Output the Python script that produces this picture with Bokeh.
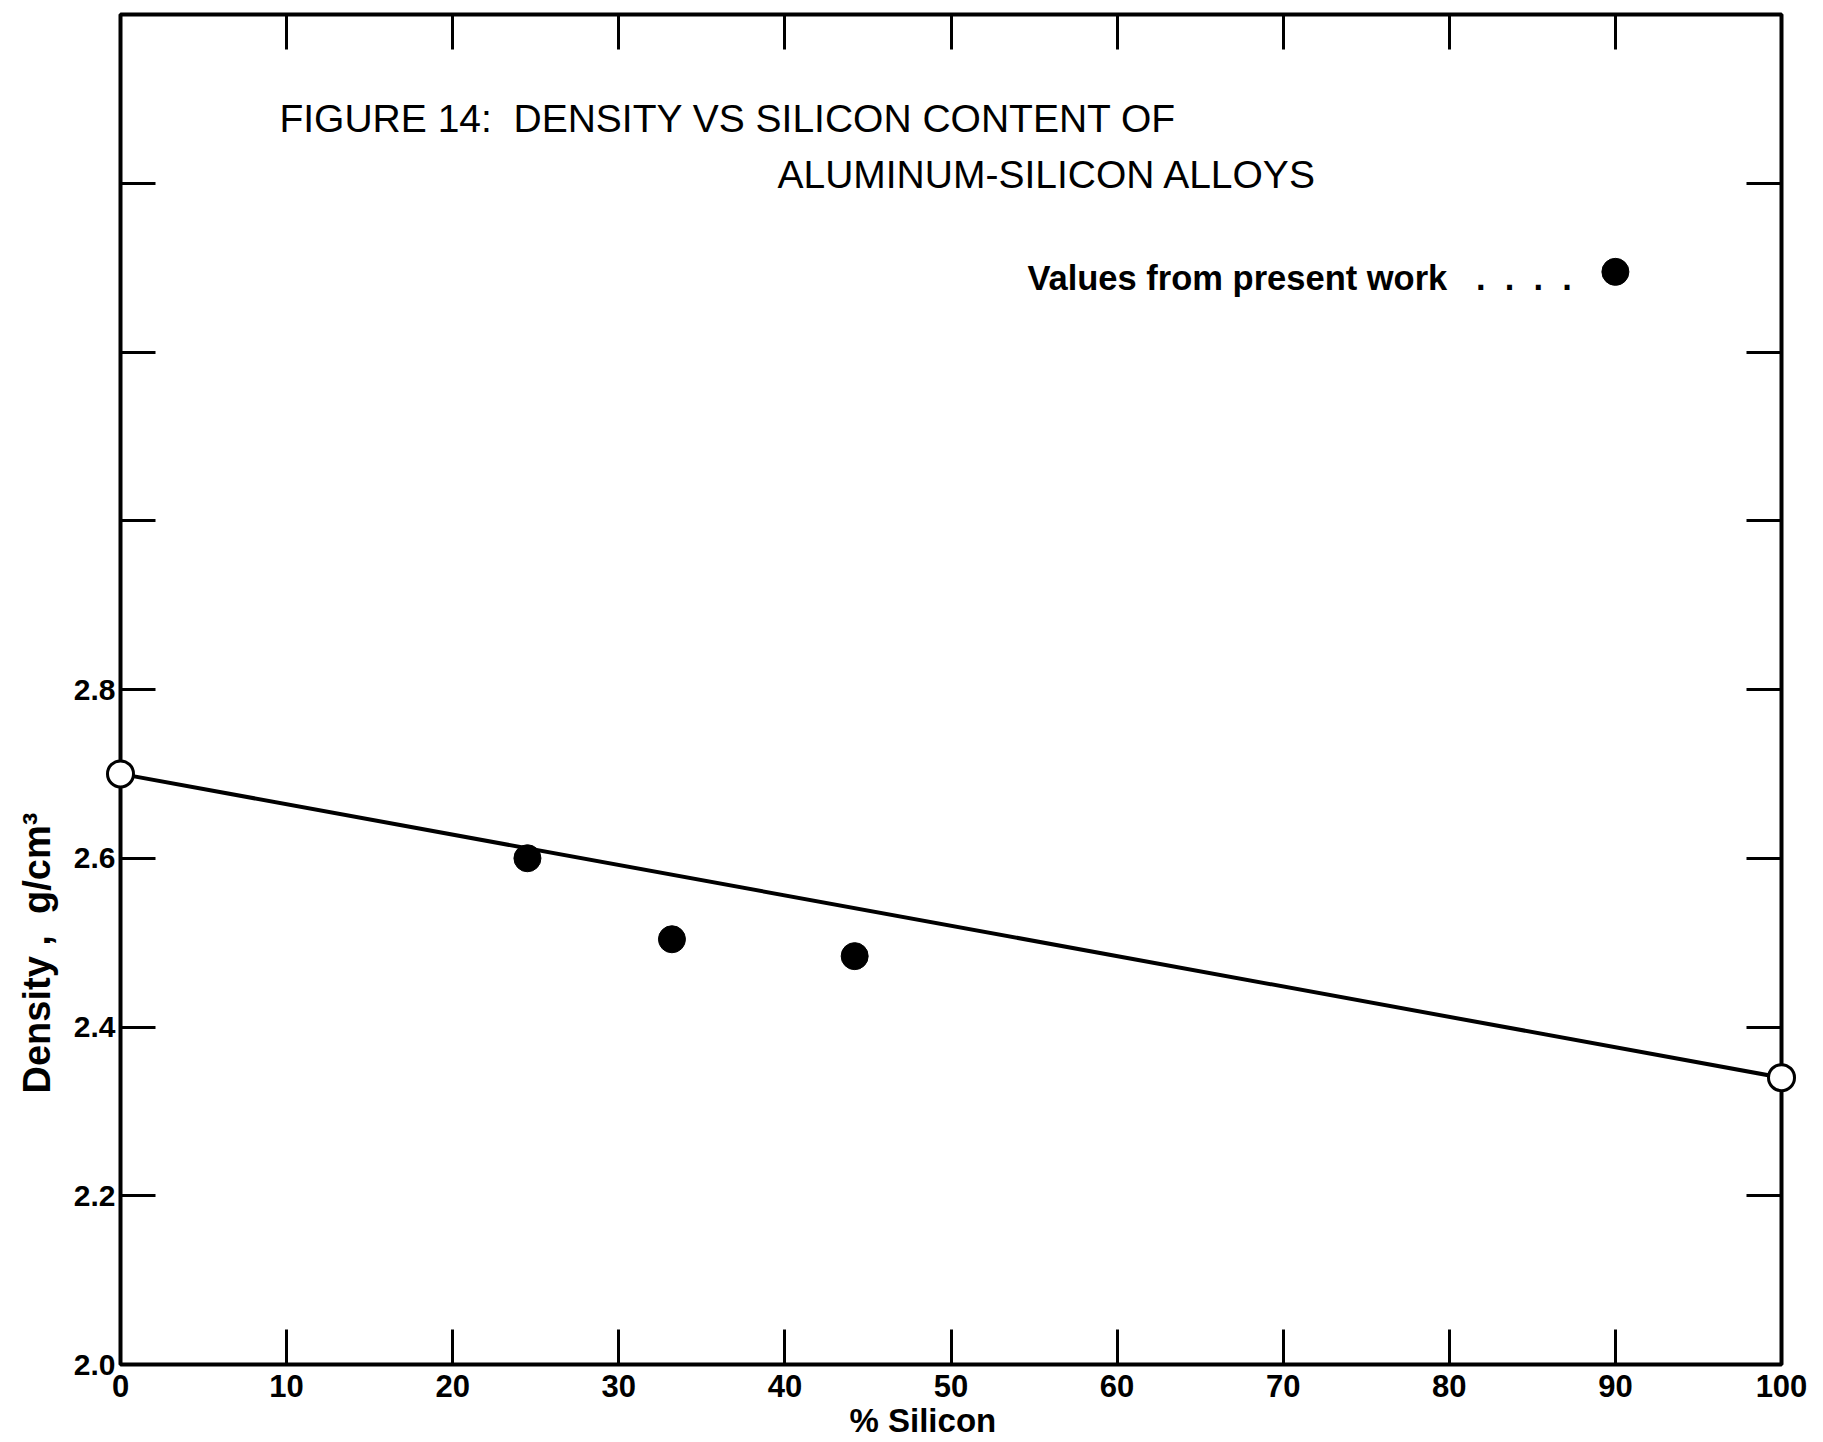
import math
from bokeh.plotting import figure
from bokeh.models import FixedTicker, LinearAxis, Label, Range1d, Title, CustomLabelingPolicy
from bokeh.embed import file_html
from bokeh.resources import INLINE

# ---- data ----
end_silicon = [0, 100]
end_density = [2.70, 2.34]

work_silicon = [24.5, 33.2, 44.2]
work_density = [2.600, 2.504, 2.484]

legend_silicon = [90.0]
legend_density = [3.295]

x_ticks = [0, 10, 20, 30, 40, 50, 60, 70, 80, 90, 100]
x_tick_labels = ["0", "10", "20", "30", "40", "50", "60", "70", "80", "90", "100"]
y_ticks = [2.0, 2.2, 2.4, 2.6, 2.8, 3.0, 3.2, 3.4, 3.6]
y_tick_labels = ["2.0", "2.2", "2.4", "2.6", "2.8", "", "", "", ""]

NB = "\u00a0"
title_lines = ["FIGURE 14:" + NB + NB + "DENSITY VS SILICON CONTENT OF",
               "ALUMINUM-SILICON ALLOYS"]
legend_text = "Values from present work" + NB * 3 + "." + (NB * 2 + ".") * 3
x_label = "% Silicon"
y_label = "Density" + NB + "," + NB + NB + "g/cm\u00b3"

FONT = "Liberation Sans"

p = figure(frame_width=1661, frame_height=1350,
           x_range=Range1d(0, 100), y_range=Range1d(2.0, 3.6),
           output_backend="svg", toolbar_location=None,
           x_axis_location=None, y_axis_location=None,
           min_border_left=120, min_border_top=14, min_border_right=30, min_border_bottom=60,
           background_fill_color="white", border_fill_color="white",
           outline_line_color="black", outline_line_width=4)
p.grid.visible = False

HIDE_FROM = """
for (let i = 0; i < indices.size; i++) {
  if (i >= n_shown) indices.unset(i)
}
return indices
"""


def make_axis(ticks, labels, show_labels, font_size="30px"):
    ax = LinearAxis(ticker=FixedTicker(ticks=ticks, minor_ticks=[]),
                    major_tick_in=35, major_tick_out=0,
                    minor_tick_in=0, minor_tick_out=0,
                    major_tick_line_width=3, major_tick_line_color="black",
                    axis_line_color=None)
    n_shown = sum(1 for l in labels if l) if show_labels else 0
    if n_shown < len(ticks):
        ax.major_label_policy = CustomLabelingPolicy(code=HIDE_FROM, args=dict(n_shown=n_shown))
    if show_labels:
        ax.major_label_overrides = {t: l for t, l in zip(ticks, labels)}
        ax.major_label_text_font = FONT
        ax.major_label_text_font_style = "bold"
        ax.major_label_text_font_size = font_size
        ax.major_label_text_color = "black"
    else:
        ax.major_label_text_font_size = "0px"
        ax.major_label_standoff = 0
    return ax


bottom = make_axis(x_ticks, x_tick_labels, True, "31px")
bottom.major_label_standoff = 10
p.add_layout(bottom, "below")

left = make_axis(y_ticks, y_tick_labels, True, "30px")
left.major_label_standoff = 5
p.add_layout(left, "left")

p.add_layout(make_axis(x_ticks, x_tick_labels, False), "above")
p.add_layout(make_axis(y_ticks, y_tick_labels, False), "right")

# axis titles (side titles, offset along the axis like the original)
p.add_layout(Title(text=x_label, align="left", offset=729, standoff=1,
                   text_font=FONT, text_font_style="bold", text_font_size="33px",
                   text_color="black"), "below")
p.add_layout(Title(text=y_label, align="left", offset=271, standoff=26,
                   text_font=FONT, text_font_style="bold", text_font_size="38px",
                   text_color="black"), "left")

# line between pure-aluminium and pure-silicon densities
p.line(end_silicon, end_density, line_color="black", line_width=4)
p.scatter(end_silicon, end_density, marker="circle", size=26,
          fill_color="white", line_color="black", line_width=3, level="overlay")

# values from present work
p.scatter(work_silicon, work_density, marker="circle", size=27,
          fill_color="black", line_color="black")
p.scatter(legend_silicon, legend_density, marker="circle", size=27,
          fill_color="black", line_color="black")

# title and legend text
p.add_layout(Label(x=9.57, y=3.477, text=title_lines[0], text_font=FONT,
                   text_font_size="39px", text_baseline="middle", text_align="left",
                   text_color="black"))
p.add_layout(Label(x=39.55, y=3.410, text=title_lines[1], text_font=FONT,
                   text_font_size="39px", text_baseline="middle", text_align="left",
                   text_color="black"))
p.add_layout(Label(x=54.6, y=3.288, text=legend_text, text_font=FONT,
                   text_font_style="bold", text_font_size="34.5px",
                   text_baseline="middle", text_align="left", text_color="black"))

open("out.html", "w").write(file_html(p, INLINE))
